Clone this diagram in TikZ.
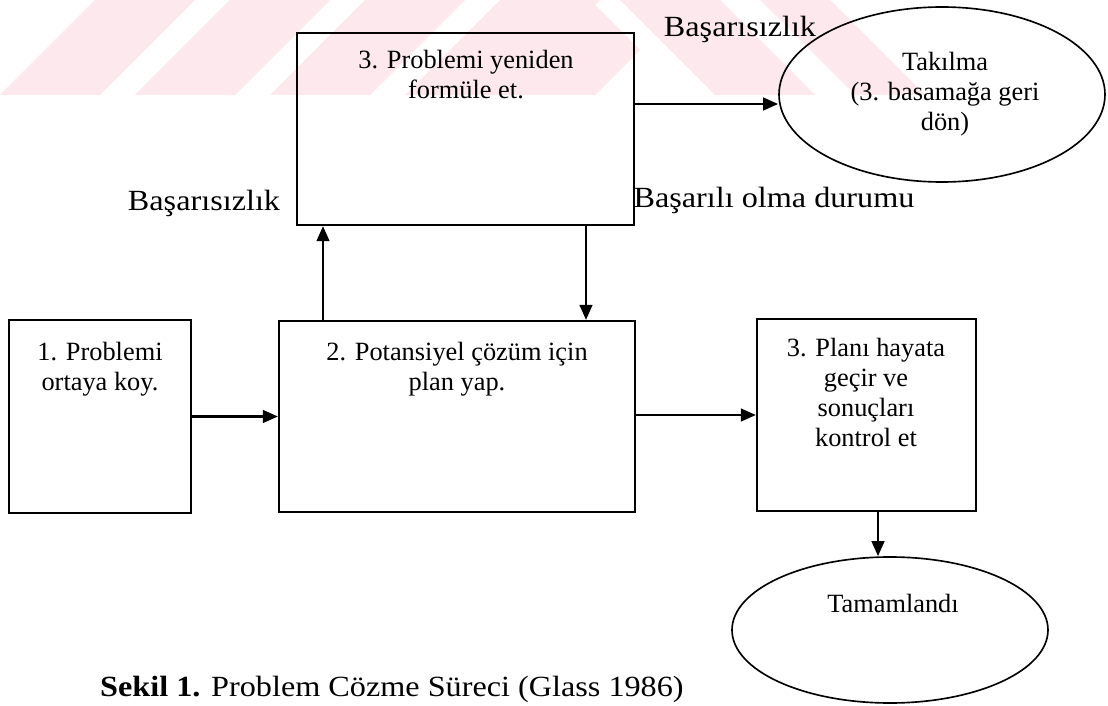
\documentclass[tikz,border=0pt]{standalone}
\usepackage{fontspec}
\setmainfont{Liberation Serif}
\newfontfamily\boxfont{Liberation Serif}
\newfontfamily\lblfont[FakeStretch=1.1]{Liberation Serif}
\usetikzlibrary{arrows.meta,shapes.geometric}
\definecolor{wm}{RGB}{252,232,237}
\def\u{0.03cm}
\tikzset{
  stepbox/.style={draw, line width=1.9pt, rectangle, inner sep=0pt},
  endoval/.style={draw, ellipse, line width=1.4pt, inner sep=0pt},
  boxtext/.style={font=\boxfont\fontsize{22.5}{25.6}\selectfont, align=center, inner sep=0pt, anchor=north},
  lbl/.style={font=\lblfont\fontsize{25}{28}\selectfont, inner sep=0pt, anchor=base},
  arr/.style={line width=1.9pt, -{Triangle[length=0.45cm,width=0.38cm]}},
}
\begin{document}
\begin{tikzpicture}[x=\u, y=-\u]
\useasboundingbox (0,0) rectangle (1108,706);
% watermark
\begin{scope}
  \clip (0,0) rectangle (1108,95);
  \foreach \a in {0,135,270,405}
    \fill[wm] (\a,95) -- (\a+100,95) -- (\a+195,0) -- (\a+95,0) -- cycle;
  \fill[wm] (495,95) -- (595,95) -- (640,50) -- (590,0) -- cycle;
  \fill[wm] (620,0) -- (720,0) -- (815,95) -- (715,95) -- cycle;
  \fill[wm] (760,0) -- (830,0) -- (925,95) -- (855,95) -- cycle;
\end{scope}
% boxes
\node[stepbox, minimum width=337*\u, minimum height=192*\u] (top) at (465.5,129) {};
\node[stepbox, minimum width=182*\u, minimum height=193*\u] (b1) at (100,416.5) {};
\node[stepbox, minimum width=356*\u, minimum height=191*\u] (b2) at (457,416.5) {};
\node[stepbox, minimum width=219*\u, minimum height=192*\u] (b3) at (866.5,415) {};
\node[endoval, minimum width=326*\u, minimum height=175*\u] (tak) at (942,94.5) {};
\node[endoval, minimum width=316*\u, minimum height=146*\u] (tam) at (890,630) {};
% texts
\node[boxtext] (ttop) at (466,50) {3. Problemi yeniden\\formüle et.};
\node[boxtext] (t1) at (100,342) {1. Problemi\\ortaya koy.};
\node[boxtext] (t2) at (457,342) {2. Potansiyel çözüm için\\plan yap.};
\node[boxtext] (t3) at (866,338) {3. Planı hayata\\geçir ve\\sonuçları\\kontrol et};
\node[boxtext] (ttak) at (945,52) {Takılma\\(3. basamağa geri\\dön)};
\node[boxtext, anchor=base] (ttam) at (893,612) {Tamamlandı};
% labels
\node[lbl] (lfail) at (204,211) {Başarısızlık};
\node[lbl] (tfail) at (740,37) {Başarısızlık};
\node[lbl] (lsucc) at (774,208) {Başarılı olma durumu};
\node[lbl, anchor=base west] (cap) at (100,696) {\textbf{Sekil 1.} Problem Cözme Süreci (Glass 1986)};
% connectors
\coordinate (yT) at (0,104);
\coordinate (xU) at (323,0);
\coordinate (xD) at (586,0);
\coordinate (xE) at (878,0);
\draw[arr] (b1.east) -- (b2.west);
\draw[arr] (b2.east |- b3.west) -- (b3.west);
\draw[arr] (top.east |- yT) -- (tak.west |- yT);
\draw[arr] (xU |- b2.north) -- (xU |- top.south);
\draw[arr] (xD |- top.south) -- (xD |- b2.north);
\draw[arr] (xE |- b3.south) -- (xE |- tam.north);
\end{tikzpicture}
\end{document}
